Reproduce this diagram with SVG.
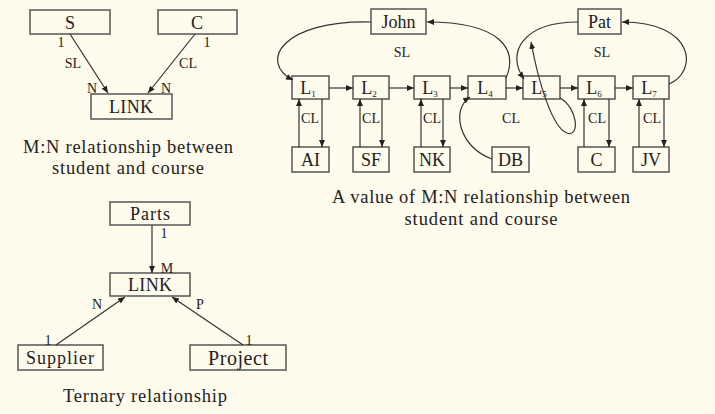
<svg xmlns="http://www.w3.org/2000/svg" width="715" height="414" viewBox="0 0 715 414">
<style>
text{font-family:"Liberation Serif","Times New Roman",serif;fill:#222}
.n{font-size:18px;text-anchor:middle}
.l{font-size:14px;text-anchor:middle}
.cap{font-size:18.5px;text-anchor:middle}
.sub{font-size:9px}
rect{fill:none;stroke:#555;stroke-width:1.5}
.c path{fill:none;stroke:#333;stroke-width:1.2;marker-end:url(#a)}
</style>
<defs>
<marker id="a" markerWidth="8" markerHeight="8" refX="7" refY="3.5" orient="auto" markerUnits="userSpaceOnUse">
<path d="M0,0.5 L7,3.5 L0,6.5 Z" fill="#222"/>
</marker>
</defs>
<rect x="0" y="0" width="715" height="414" style="fill:#fefaec;stroke:none"/>

<g id="S"><rect x="30" y="10" width="80" height="24"/><text class="n" x="70" y="29">S</text></g>
<g id="C"><rect x="158" y="10" width="79" height="24"/><text class="n" x="197" y="29">C</text></g>
<g id="LINK1"><rect x="91" y="94" width="81" height="25"/><text class="n" x="131" y="113" textLength="44">LINK</text></g>
<text class="cap" x="128" y="153" textLength="210">M:N relationship between</text>
<text class="cap" x="128" y="174" textLength="152">student and course</text>

<g id="John"><rect x="371" y="9" width="55" height="25"/><text class="n" x="398.5" y="28" textLength="34">John</text></g>
<g id="Pat"><rect x="578" y="9" width="43" height="25"/><text class="n" x="599.5" y="28">Pat</text></g>
<g id="L1"><rect x="292" y="76" width="37" height="23"/><text class="n" x="308" y="94">L<tspan class="sub" dy="3">1</tspan></text></g>
<g id="L2"><rect x="353" y="76" width="36" height="23"/><text class="n" x="369" y="94">L<tspan class="sub" dy="3">2</tspan></text></g>
<g id="L3"><rect x="414" y="76" width="36" height="23"/><text class="n" x="430" y="94">L<tspan class="sub" dy="3">3</tspan></text></g>
<g id="L4"><rect x="468" y="76" width="38" height="23"/><text class="n" x="485" y="94">L<tspan class="sub" dy="3">4</tspan></text></g>
<g id="L5"><rect x="523" y="76" width="37" height="23"/><text class="n" x="539" y="94">L<tspan class="sub" dy="3">5</tspan></text></g>
<g id="L6"><rect x="578" y="76" width="37" height="23"/><text class="n" x="594" y="94">L<tspan class="sub" dy="3">6</tspan></text></g>
<g id="L7"><rect x="633" y="76" width="36" height="23"/><text class="n" x="649" y="94">L<tspan class="sub" dy="3">7</tspan></text></g>
<g id="AI"><rect x="292" y="147" width="37" height="25"/><text class="n" x="310.5" y="166">AI</text></g>
<g id="SF"><rect x="353" y="147" width="36" height="25"/><text class="n" x="371" y="166">SF</text></g>
<g id="NK"><rect x="414" y="147" width="36" height="25"/><text class="n" x="432" y="166">NK</text></g>
<g id="DB"><rect x="492" y="147" width="37" height="25"/><text class="n" x="510.5" y="166">DB</text></g>
<g id="C2"><rect x="578" y="147" width="37" height="25"/><text class="n" x="596.5" y="166">C</text></g>
<g id="JV"><rect x="633" y="147" width="36" height="25"/><text class="n" x="651" y="166">JV</text></g>
<text class="cap" x="481" y="203" textLength="298">A value of M:N relationship between</text>
<text class="cap" x="481" y="225" textLength="153">student and course</text>

<g id="Parts"><rect x="110" y="202" width="80" height="23"/><text class="n" x="150" y="220" textLength="40">Parts</text></g>
<g id="LINK2"><rect x="110" y="273" width="80" height="23"/><text class="n" x="150" y="291" textLength="44">LINK</text></g>
<g id="Supplier"><rect x="18" y="345" width="85" height="25"/><text class="n" x="60" y="364" textLength="68">Supplier</text></g>
<g id="Project"><rect x="190" y="345" width="96" height="25"/><text class="n" x="238" y="365" style="font-size:20px" textLength="60">Project</text></g>
<text class="cap" x="145" y="402" textLength="164">Ternary relationship</text>

<g class="c" id="connectors">
<path d="M70,34 L108,93"/>
<path d="M195,34 L148,93"/>
<path d="M371,22 C282,20 258,62 293,80"/>
<path d="M506,78 C518,50 502,22 427,22"/>
<path d="M578,22 C524,22 505,52 524,79"/>
<path d="M669,84 C698,72 696,22 622,22"/>
<path d="M329,88 L353,88"/>
<path d="M389,88 L414,88"/>
<path d="M450,88 L468,88"/>
<path d="M506,88 L523,88"/>
<path d="M560,88 L578,88"/>
<path d="M615,88 L633,88"/>
<path d="M299,147 L299,99"/><path d="M322,99 L322,147"/>
<path d="M360,147 L360,99"/><path d="M382,99 L382,147"/>
<path d="M421,147 L421,99"/><path d="M443,99 L443,147"/>
<path d="M584,147 L584,99"/><path d="M609,99 L609,147"/>
<path d="M639,147 L639,99"/><path d="M664,99 L664,147"/>
<path d="M492,159 C460,148 450,110 470,97"/>
<path d="M560,98 C578,108 580,138 567,133 C552,128 538,80 531,42"/>
<path d="M152,225 L152,273"/>
<path d="M56,345 L125,297"/>
<path d="M243,345 L172,297"/>
</g>

<g id="labels">
<text class="l" x="61" y="47">1</text>
<text class="l" x="73" y="68">SL</text>
<text class="l" x="92" y="93">N</text>
<text class="l" x="207" y="47">1</text>
<text class="l" x="188" y="68">CL</text>
<text class="l" x="166" y="93">N</text>
<text class="l" x="402" y="57">SL</text>
<text class="l" x="602" y="57">SL</text>
<text class="l" x="310" y="123">CL</text>
<text class="l" x="371" y="123">CL</text>
<text class="l" x="432" y="123">CL</text>
<text class="l" x="511" y="123">CL</text>
<text class="l" x="597" y="123">CL</text>
<text class="l" x="652" y="123">CL</text>
<text class="l" x="164" y="238">1</text>
<text class="l" x="167" y="273">M</text>
<text class="l" x="97" y="309">N</text>
<text class="l" x="200" y="309">P</text>
<text class="l" x="48" y="345">1</text>
<text class="l" x="249" y="345">1</text>
</g>
</svg>
